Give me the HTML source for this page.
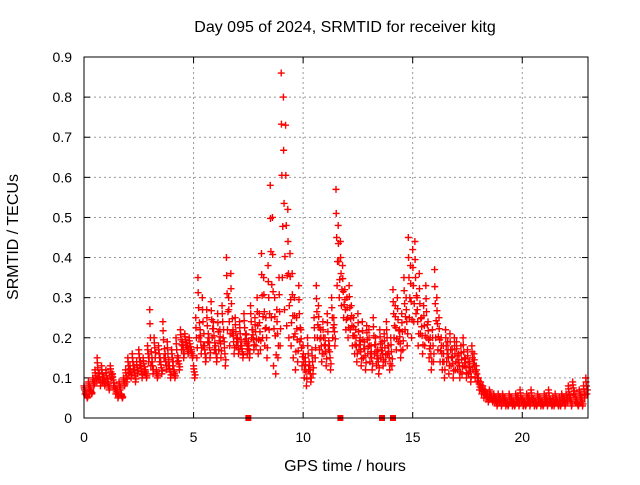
<!DOCTYPE html>
<html><head><meta charset="utf-8"><style>
body{margin:0;background:#fff}
svg text{font-family:"Liberation Sans",sans-serif;font-size:14px;fill:#000}
svg text.big{font-size:16px}
</style></head><body>
<svg id="chart" width="640" height="480">
<rect width="640" height="480" fill="#fff"/>
<text class="big" x="345" y="32" text-anchor="middle">Day 095 of 2024, SRMTID for receiver kitg</text>
<text class="big" x="345" y="471" text-anchor="middle">GPS time / hours</text>
<text class="big" transform="translate(18,237) rotate(-90)" text-anchor="middle">SRMTID / TECUs</text>
<g id="grid"></g><g id="ticks"></g><g id="marks"></g>
<rect x="84" y="57" width="504" height="361" fill="none" stroke="#000" stroke-width="1"/>
</svg>
<script>
const xTicks=[0,5,10,15,20];
const yTicks=[0,0.1,0.2,0.3,0.4,0.5,0.6,0.7,0.8,0.9];
const seriesHigh=[.08,.06,.09,.07,.10,.12,.15,.11,.13,.10,
.12,.09,.13,.11,.08,.07,.09,.06,.10,.12,
.15,.13,.16,.12,.14,.17,.13,.15,.12,.18,
.27,.15,.20,.12,.18,.14,.24,.16,.19,.13,
.17,.12,.20,.15,.22,.19,.21,.18,.20,.17,
.13,.25,.35,.22,.30,.18,.27,.20,.29,.24,
.18,.26,.22,.28,.19,.40,.30,.36,.22,.25,
.20,.24,.18,.26,.21,.19,.28,.22,.25,.30,
.26,.41,.35,.25,.38,.58,.50,.30,.27,.35,
.86,.80,.73,.52,.41,.36,.30,.25,.33,.22,
.18,.15,.20,.13,.17,.25,.33,.28,.22,.24,
.20,.26,.18,.30,.25,.57,.48,.44,.38,.32,
.30,.33,.28,.25,.22,.26,.20,.24,.19,.23,
.22,.18,.25,.20,.17,.22,.19,.21,.24,.18,
.20,.32,.28,.30,.22,.26,.35,.30,.45,.38,
.42,.44,.30,.36,.25,.28,.33,.24,.20,.22,
.37,.30,.25,.20,.18,.22,.19,.21,.17,.20,
.19,.16,.18,.20,.15,.17,.14,.18,.16,.13,
.10,.09,.08,.07,.06,.07,.05,.06,.05,.06,
.05,.06,.05,.04,.06,.05,.04,.06,.05,.07,
.05,.04,.06,.05,.07,.05,.04,.06,.05,.04,
.06,.05,.07,.04,.05,.06,.04,.05,.06,.05,
.06,.08,.05,.09,.06,.04,.07,.05,.08,.10];
const seriesLow=[.06,.05,.07,.06,.08,.09,.10,.08,.09,.08,
.09,.07,.10,.08,.06,.05,.07,.05,.08,.09,
.11,.10,.12,.09,.11,.13,.10,.12,.10,.14,
.13,.11,.15,.10,.14,.11,.15,.12,.13,.10,
.13,.10,.14,.12,.17,.15,.18,.16,.17,.15,
.10,.15,.20,.16,.18,.14,.19,.15,.20,.17,
.14,.17,.15,.20,.13,.22,.18,.21,.16,.18,
.16,.18,.15,.19,.16,.15,.20,.17,.18,.16,
.17,.20,.18,.15,.22,.25,.13,.11,.15,.18,
.35,.27,.23,.20,.18,.15,.12,.14,.19,.13,
.10,.08,.12,.09,.11,.15,.20,.17,.14,.16,
.13,.17,.12,.20,.18,.33,.30,.28,.25,.22,
.20,.22,.18,.16,.14,.17,.13,.15,.12,.16,
.14,.12,.16,.13,.11,.15,.13,.14,.16,.12,
.13,.20,.17,.19,.15,.17,.22,.18,.25,.20,
.24,.26,.18,.21,.16,.18,.20,.15,.12,.14,
.20,.17,.14,.12,.10,.14,.11,.13,.10,.12,
.12,.10,.11,.13,.10,.11,.09,.12,.10,.09,
.07,.06,.05,.05,.04,.05,.04,.04,.03,.04,
.03,.04,.03,.03,.04,.03,.03,.04,.03,.04,
.03,.03,.04,.03,.04,.03,.03,.04,.03,.03,
.04,.03,.04,.03,.03,.04,.03,.03,.04,.03,
.04,.05,.03,.06,.04,.03,.05,.03,.05,.06];
const zeroHours=[7.5,11.7,13.6,14.1];
const sampleStep=0.1;
const X=h=>84+h*(504/23), Y=v=>418-v*(361/0.9);
const NS="http://www.w3.org/2000/svg";
const mk=(p,t,a)=>{const e=document.createElementNS(NS,t);for(const k in a)e.setAttribute(k,a[k]);p.appendChild(e);return e;};
const grid=document.getElementById('grid'),ticks=document.getElementById('ticks'),marks=document.getElementById('marks');
xTicks.forEach(t=>{const x=X(t);
 if(t>0){const g=mk(grid,'line',{x1:x,x2:x,y1:57,y2:418,stroke:'#999','stroke-dasharray':'2,3'});
 
 }
 mk(ticks,'line',{x1:x,x2:x,y1:418,y2:412,stroke:'#000'});mk(ticks,'line',{x1:x,x2:x,y1:57,y2:63,stroke:'#000'});
 const l=mk(ticks,'text',{x:x,y:442,'text-anchor':'middle'});l.textContent=t;
 
 });
yTicks.forEach(t=>{const y=Y(t);
 if(t>0&&t<0.9){const g=mk(grid,'line',{x1:84,x2:588,y1:y,y2:y,stroke:'#999','stroke-dasharray':'2,3'});
 
 }
 mk(ticks,'line',{x1:84,x2:90,y1:y,y2:y,stroke:'#000'});mk(ticks,'line',{x1:582,x2:588,y1:y,y2:y,stroke:'#000'});
 const l=mk(ticks,'text',{x:72,y:y+5,'text-anchor':'end'});l.textContent=t===0?'0':t.toFixed(1);
 
 });
function plus(h,v){const x=X(h),y=Y(v);
 const p=mk(marks,'path',{d:`M${x-3.5},${y}h7M${x},${y-3.5}v7`,stroke:'#f00','stroke-width':1.4});
 
 }
seriesHigh.forEach((v,i)=>plus(i*sampleStep,v));
seriesLow.forEach((v,i)=>plus(i*sampleStep+0.05,v));
seriesHigh.forEach((v,i)=>plus(i*sampleStep+0.03,(v+seriesLow[i])/2));
seriesHigh.forEach((v,i)=>plus(i*sampleStep+0.07,(v+3*seriesLow[i])/4));
seriesHigh.forEach((v,i)=>plus(i*sampleStep+0.01,(3*v+seriesLow[i])/4));
zeroHours.forEach(h=>{const r=mk(marks,'rect',{x:X(h)-3,y:415,width:6,height:6,fill:'#f00'});
 
 });
</script>
</body></html>
